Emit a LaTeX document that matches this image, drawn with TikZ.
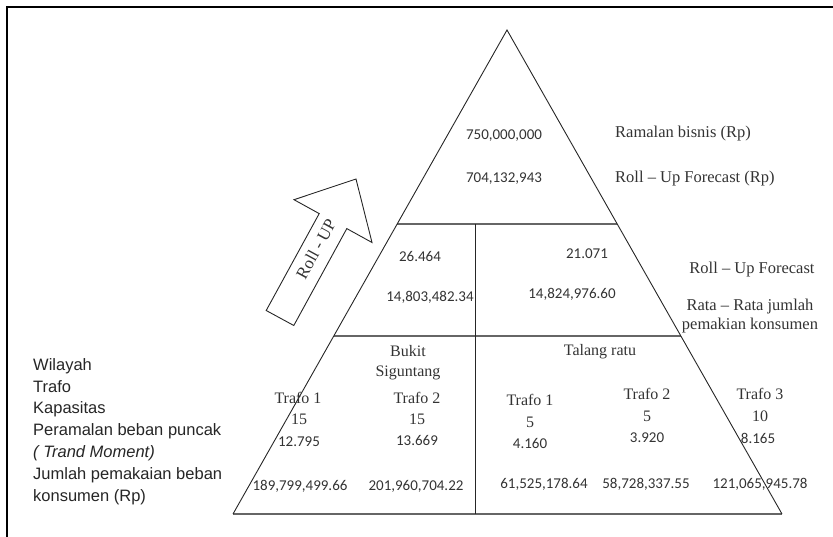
\documentclass[tikz,border=0pt]{standalone}
\usepackage{fontspec}
\setmainfont{Liberation Serif}
\newfontfamily\calfont{Carlito}
\newfontfamily\arfont{Liberation Sans}
\usetikzlibrary{calc}
\begin{document}
\begin{tikzpicture}[x=1pt,y=-1pt,
  num/.style={font=\calfont\fontsize{15}{18}\selectfont, inner sep=0pt, text=black!80},
  ser/.style={font=\fontsize{16}{19}\selectfont, inner sep=0pt, text=black!80},
  lab/.style={font=\fontsize{16.5}{20}\selectfont, inner sep=0pt, text=black!80},
  lft/.style={font=\arfont\fontsize{16.5}{19}\selectfont, anchor=west, inner sep=0pt, text=black!85},
  tri/.style={draw=black!85, line width=0.9pt},
  sepline/.style={draw=black!60, line width=1.5pt},
  frame/.style={draw=black, line width=1.6pt}]
\useasboundingbox (0,0) rectangle (833,537);
% frame
\coordinate (FB) at (7,537);
\coordinate (FC) at (7,7);
\coordinate (FR) at (833,7);
\draw[frame] (FB) -- (FC) -- (FR);
% triangle geometry
\coordinate (A) at (507,30);
\coordinate (BL) at (233,514);
\coordinate (BR) at (782,514);
\coordinate (L1) at ($(A)!0.4008!(BL)$);
\coordinate (R1) at ($(A)!0.4008!(BR)$);
\coordinate (L2) at ($(A)!0.6322!(BL)$);
\coordinate (R2) at ($(A)!0.6322!(BR)$);
\coordinate (V1) at (475,224);
\coordinate (V2) at (475,514);
\draw[sepline] (L1) -- (R1);
\draw[sepline] (L2) -- (R2);
\draw[sepline] (BL) -- (BR);
\draw[tri] (V1) -- (V2);
\draw[tri] (BL) -- (A) -- (BR);
% block arrow Roll - UP
\coordinate (P1) at (266.2,310.5);
\coordinate (P2) at (319.2,213.6);
\coordinate (P3) at (294,199.7);
\coordinate (P4) at (356,179);
\coordinate (P5) at (372,242.5);
\coordinate (P6) at (346.8,228.6);
\coordinate (P7) at (293.8,325.5);
\draw[tri, line join=miter] (P1) -- (P2) -- (P3) -- (P4) -- (P5) -- (P6) -- (P7) -- cycle;
\node[lab, rotate=61.3, font=\fontsize{17}{20}\selectfont] (rollup) at (316,249) {Roll - UP};
% top section
\node[num] (n750) at (504,136) {750,000,000};
\node[num] (n704) at (504,179) {704,132,943};
\node[lab, anchor=west] (ramalan) at (615,134) {Ramalan bisnis (Rp)};
\node[lab, anchor=west] (rollfc) at (615,179) {Roll -- Up Forecast (Rp)};
% middle section
\node[num] (n26) at (420,256) {26.464};
\node[num] (n148) at (430,297) {14,803,482.34};
\node[num] (n21) at (587,254) {21.071};
\node[num] (n1482) at (572,294) {14,824,976.60};
\node[lab] (rollfc2) at (752,270) {Roll -- Up Forecast};
\node[lab, align=center, font=\fontsize{16.5}{18.5}\selectfont] (rata) at (750,316) {Rata -- Rata jumlah\\pemakian konsumen};
% left labels
\node[lft] (wil) at (33,366) {Wilayah};
\node[lft] (trf) at (33,387) {Trafo};
\node[lft] (kap) at (33,409) {Kapasitas};
\node[lft] (per) at (33,431) {Peramalan beban puncak};
\node[lft, font=\arfont\itshape\fontsize{16.5}{19}\selectfont] (trand) at (33,453) {( Trand Moment)};
\node[lft] (jum) at (33,475) {Jumlah pemakaian beban};
\node[lft] (kon) at (33,497) {konsumen (Rp)};
% bottom left: Bukit Siguntang
\node[ser] (bukit) at (408,351) {Bukit};
\node[ser] (sigun) at (408,373) {Siguntang};
\node[ser] (bt1) at (298,398) {Trafo 1};
\node[ser] (bk1) at (299,419) {15};
\node[num] (bp1) at (299,442) {12.795};
\node[num] (bj1) at (300,486) {189,799,499.66};
\node[ser] (bt2) at (417,398) {Trafo 2};
\node[ser] (bk2) at (417,419) {15};
\node[num] (bp2) at (417,440) {13.669};
\node[num] (bj2) at (416,486) {201,960,704.22};
% bottom right: Talang ratu
\node[ser] (talang) at (600,352) {Talang ratu};
\node[ser] (tt1) at (530,400) {Trafo 1};
\node[ser] (tk1) at (530,422) {5};
\node[num] (tp1) at (530,443) {4.160};
\node[num] (tj1) at (544,484) {61,525,178.64};
\node[ser] (tt2) at (647,394) {Trafo 2};
\node[ser] (tk2) at (647,416) {5};
\node[num] (tp2) at (647,438) {3.920};
\node[num] (tj2) at (646,484) {58,728,337.55};
\node[ser] (tt3) at (760,394) {Trafo 3};
\node[ser] (tk3) at (760,416) {10};
\node[num] (tp3) at (758,438) {8.165};
\node[num] (tj3) at (760,484) {121,065,945.78};
\end{tikzpicture}
\end{document}
